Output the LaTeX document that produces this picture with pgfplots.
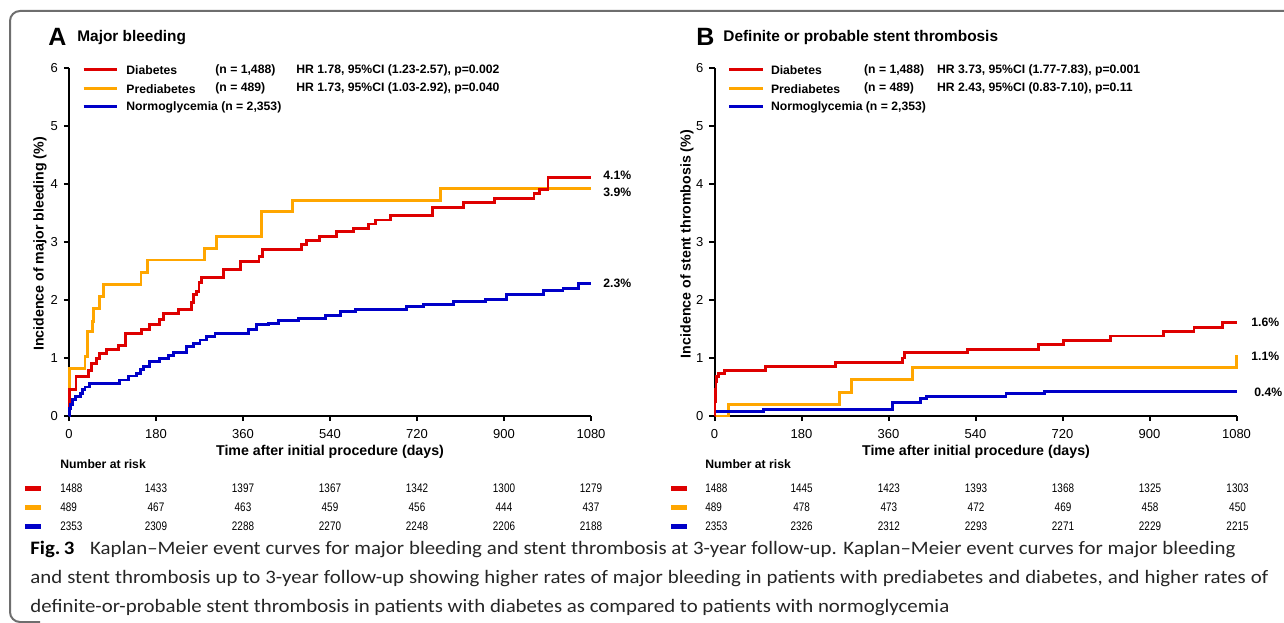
\documentclass[border=0pt]{standalone}
\usepackage{pgfplots}
\pgfplotsset{compat=1.18}
\usepackage{graphicx}
\usepackage{fontspec}
\setmainfont{Liberation Sans}
\newfontfamily\capfont{Carlito}
\definecolor{cRed}{RGB}{222,0,0}
\definecolor{cYel}{RGB}{255,166,0}
\definecolor{cBlu}{RGB}{0,0,200}
\definecolor{frame}{RGB}{110,110,110}

\pgfplotsset{
 kmaxis/.style={
  scale only axis, width=261pt, height=174pt,
  xmin=0,xmax=1080,ymin=0,ymax=6,
  axis x line*=bottom, axis y line*=left,
  axis line style={line width=1pt,-},
  xtick={0,180,...,1080}, ytick={0,...,6},
  tick align=outside, major tick length=2.6pt,
  tick style={line width=1pt, black},
  ticklabel style={font=\fontsize{6.5pt}{7pt}\selectfont},
  yticklabel style={xshift=0.5pt},
  xticklabel style={yshift=-0.8pt},
  /pgf/number format/assume math mode=true,
  /pgf/number format/1000 sep={},
  clip=false,
  every axis plot/.append style={const plot, line width=1.45pt, no marks},
 }}

\newcommand{\nr}[1]{\scalebox{0.8}[1]{#1}}
\newcommand{\capsz}{\capfont\fontsize{9.5pt}{11pt}\selectfont}
\newlength\lthree

\begin{document}%
\settowidth\lthree{\capsz definite-or-probable stent thrombosis in patients with diabetes as compared to patients with normoglycemia}%
\pgfmathsetmacro\capf{459.5/\lthree}%
\pgfmathsetlengthmacro\wone{602.5pt/\capf}%
\pgfmathsetlengthmacro\wtwo{619pt/\capf}%
\begin{tikzpicture}
\path[use as bounding box] (0,0) rectangle (642pt,311pt);

% Panel A
\begin{axis}[kmaxis, at={(34.5pt,103pt)}, anchor=south west]
\addplot[cYel] coordinates {(0,0) (1,0.82) (33,1.02) (38,1.45) (48,1.63) (51,1.86) (64,2.06) (71,2.26) (149,2.48) (162,2.69) (280,2.89) (305,3.10) (399,3.52) (462,3.72) (768,3.93) (1080,3.93)};
\addplot[cRed] coordinates {(0,0) (1,0.46) (14.5,0.68) (40,0.79) (46,0.90) (57,0.99) (64,1.08) (78,1.15) (102,1.22) (116,1.43) (150,1.49) (167,1.57) (188,1.66) (195,1.77) (226,1.84) (254,1.95) (258,2.09) (264,2.15) (269,2.30) (274,2.39) (319,2.52) (354,2.66) (393,2.75) (401,2.87) (481,2.95) (492,3.03) (519,3.10) (554,3.18) (588,3.24) (619,3.31) (635,3.38) (665,3.45) (752,3.60) (817,3.68) (881,3.75) (962,3.84) (974,3.90) (991,4.11) (1080,4.11)};
\addplot[cBlu] coordinates {(0,0) (1,0.13) (3,0.20) (7.6,0.28) (14,0.33) (23,0.39) (28,0.45) (33,0.50) (43,0.56) (105,0.62) (123,0.69) (140,0.74) (147,0.80) (154,0.85) (167,0.94) (188,0.99) (206,1.05) (217,1.09) (243,1.20) (257,1.25) (271,1.31) (285,1.37) (302,1.43) (371,1.49) (388,1.57) (412,1.60) (433,1.64) (474,1.68) (530,1.74) (561,1.80) (592,1.84) (699,1.89) (733,1.93) (795,1.97) (862,2.01) (905,2.10) (981,2.16) (1022,2.20) (1054,2.29) (1080,2.29)};
\end{axis}

% Panel B
\begin{axis}[kmaxis, at={(357.25pt,103pt)}, anchor=south west]
\addplot[cYel] coordinates {(0,0) (28.6,0.20) (259,0.41) (283,0.63) (410,0.83) (1080,1.05)};
\addplot[cBlu] coordinates {(0,0) (1,0.07) (101,0.115) (369,0.24) (427,0.30) (438,0.34) (603,0.385) (682,0.43) (1080,0.43)};
\addplot[cRed] coordinates {(0,0) (1,0.25) (2,0.45) (3,0.60) (5,0.68) (9,0.73) (21,0.79) (106,0.86) (251,0.92) (389,1.00) (393,1.09) (524,1.15) (670,1.24) (722,1.30) (820,1.38) (929,1.45) (992,1.52) (1051,1.61) (1080,1.61)};
\end{axis}

\begin{scope}[x=0.5pt,y=-0.5pt,shift={(0,311pt)}]
% frame
\draw[frame, line width=1pt, rounded corners=5pt] (1290,11) -- (10,11) -- (10,622) -- (40,622);

% titles
\node[anchor=west, inner sep=0, font=\fontsize{12.5pt}{14pt}\selectfont\bfseries] at (48,37) {A};
\node[anchor=west, inner sep=0, font=\fontsize{7.7pt}{9pt}\selectfont\bfseries] at (77,38) {Major bleeding};
\node[anchor=west, inner sep=0, font=\fontsize{12.5pt}{14pt}\selectfont\bfseries] at (696,37) {B};
\node[anchor=west, inner sep=0, font=\fontsize{7.7pt}{9pt}\selectfont\bfseries] at (723,38) {Definite or probable stent thrombosis};

% legend lines
\foreach \ox in {0,645.5}{
 \draw[cRed, line width=1.5pt] (83.5+\ox,70) -- (117+\ox,70);
 \draw[cYel, line width=1.5pt] (83.5+\ox,88.7) -- (117+\ox,88.7);
 \draw[cBlu, line width=1.5pt] (83.5+\ox,107) -- (117+\ox,107);
}
\begin{scope}[every node/.style={anchor=west, inner sep=0, font=\fontsize{6.1pt}{7pt}\selectfont\bfseries}]
\node at (126,70) {Diabetes}; \node at (215,70) {(n = 1,488)}; \node at (296,70) {HR 1.78, 95\%CI (1.23-2.57), p=0.002};
\node at (126,88.7) {Prediabetes}; \node at (215,88.7) {(n = 489)}; \node at (296,88.7) {HR 1.73, 95\%CI (1.03-2.92), p=0.040};
\node at (126,107) {Normoglycemia (n = 2,353)};
\node at (770.6,70) {Diabetes}; \node at (863.7,70) {(n = 1,488)}; \node at (936.7,70) {HR 3.73, 95\%CI (1.77-7.83), p=0.001};
\node at (770.6,88.7) {Prediabetes}; \node at (863.7,88.7) {(n = 489)}; \node at (936.7,88.7) {HR 2.43, 95\%CI (0.83-7.10), p=0.11};
\node at (770.6,107) {Normoglycemia (n = 2,353)};
% percent labels
\node at (603,175) {4.1\%}; \node at (603,192) {3.9\%}; \node at (603,283) {2.3\%};
\node at (1251,322) {1.6\%}; \node at (1251,356) {1.1\%}; \node at (1254,392) {0.4\%};
% number at risk headers
\node at (60,464) {Number at risk};
\node at (705,464) {Number at risk};
\end{scope}

% axis labels
\begin{scope}[every node/.style={inner sep=0, font=\fontsize{7.1pt}{8pt}\selectfont\bfseries}]
\node at (330,452) {Time after initial procedure (days)};
\node at (976,452) {Time after initial procedure (days)};
\node[rotate=90] at (40,244) {Incidence of major bleeding (\%)};
\node[rotate=90] at (687,244) {Incidence of stent thrombosis (\%)};
\end{scope}

% number at risk tables
\foreach \ox in {0,646}{
\fill[cRed] (25+\ox,485.5) rectangle (41+\ox,490.5);
\fill[cYel] (25+\ox,504.5) rectangle (41+\ox,509.5);
\fill[cBlu] (25+\ox,523.5) rectangle (41+\ox,528.5);
}
\begin{scope}[every node/.style={inner sep=0, font=\fontsize{6.2pt}{7pt}\selectfont}]
\node[anchor=west] at (60,488) {\nr{1488}};
\node[anchor=west] at (60,507) {\nr{489}};
\node[anchor=west] at (60,526) {\nr{2353}};
\foreach \x/\a/\b/\c in {156/1433/467/2309, 243/1397/463/2288, 330/1367/459/2270, 417/1342/456/2248, 504/1300/444/2206, 591/1279/437/2188}{
 \node at (\x,488) {\nr{\a}}; \node at (\x,507) {\nr{\b}}; \node at (\x,526) {\nr{\c}};
}
\node[anchor=west] at (705,488) {\nr{1488}};
\node[anchor=west] at (705,507) {\nr{489}};
\node[anchor=west] at (705,526) {\nr{2353}};
\foreach \x/\a/\b/\c in {801.7/1445/478/2326, 888.8/1423/473/2312, 976/1393/472/2293, 1063/1368/469/2271, 1150/1325/458/2229, 1237.5/1303/450/2215}{
 \node at (\x,488) {\nr{\a}}; \node at (\x,507) {\nr{\b}}; \node at (\x,526) {\nr{\c}};
}
\end{scope}

% caption
\begin{scope}[every node/.style={anchor=west, inner sep=0, text=black!85}]
\node at (30,549) {\scalebox{\capf}[1]{\makebox[\wone][s]{\capsz\textbf{\color{black}Fig.\,3}\hspace{0.75em}Kaplan–Meier event curves for major bleeding and stent thrombosis at 3-year follow-up. Kaplan–Meier event curves for major bleeding}}};
\node at (30,579) {\scalebox{\capf}[1]{\makebox[\wtwo][s]{\capsz and stent thrombosis up to 3-year follow-up showing higher rates of major bleeding in patients with prediabetes and diabetes, and higher rates of}}};
\node at (30,608) {\scalebox{\capf}[1]{\capsz definite-or-probable stent thrombosis in patients with diabetes as compared to patients with normoglycemia}};
\end{scope}
\end{scope}
\end{tikzpicture}
\end{document}
